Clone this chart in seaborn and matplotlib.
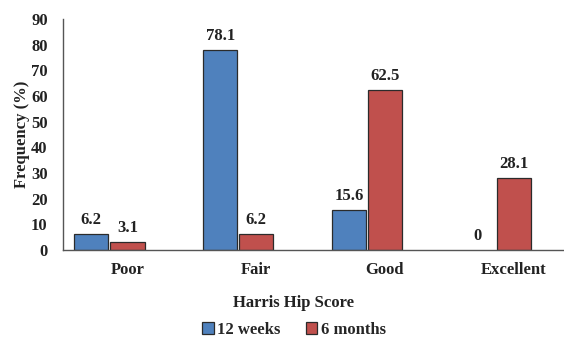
import matplotlib
matplotlib.use("Agg")
import matplotlib.pyplot as plt
import seaborn as sns
import pandas as pd
import numpy as np

categories = ["Poor", "Fair", "Good", "Excellent"]
weeks12 = [6.2, 78.1, 15.6, 0]
months6 = [3.1, 6.2, 62.5, 28.1]
labels12 = ["6.2", "78.1", "15.6", "0"]
labels6 = ["3.1", "6.2", "62.5", "28.1"]
series = ["12 weeks", "6 months"]
yticks = [0, 10, 20, 30, 40, 50, 60, 70, 80, 90]

sns.set_theme(style="white")
plt.rcParams['font.family'] = ['Liberation Serif', 'DejaVu Serif']
plt.rcParams['font.weight'] = 'bold'

FS = 12

rows = []
for c, a, b in zip(categories, weeks12, months6):
    rows.append({"cat": c, "series": series[0], "val": a})
    rows.append({"cat": c, "series": series[1], "val": b})
    rows.append({"cat": c, "series": " ", "val": np.nan})
df = pd.DataFrame(rows)

fig = plt.figure(figsize=(5.64, 3.39), dpi=100)
ax = fig.add_axes([0.1117, 0.263, 0.8883, 0.681])

palette = {series[0]: "#4F81BD", series[1]: "#C0504D", " ": "#FFFFFF"}
sns.barplot(data=df, x="cat", y="val", hue="series", order=categories,
            hue_order=[series[0], series[1], " "], palette=palette,
            width=0.84, gap=0.05, edgecolor="#2b2b2b", linewidth=0.9,
            errorbar=None, ax=ax, saturation=1)

conts = ax.containers
for p, v in zip(conts[0].patches, weeks12):
    if v == 0:
        p.set_linewidth(0)
ax.bar_label(conts[0], labels=labels12, padding=4, fontsize=FS, fontweight="bold", color="#222222")
ax.bar_label(conts[1], labels=labels6, padding=4, fontsize=FS, fontweight="bold", color="#222222")

ax.set_ylim(0, 90)
ax.set_xlim(-0.5, 3.39)
ax.set_yticks(yticks)
ax.set_yticklabels([str(t) for t in yticks])
ax.tick_params(axis="both", length=0, labelsize=FS, colors="#222222")
ax.tick_params(axis="y", pad=11)
ax.tick_params(axis="x", pad=9)
for lab in ax.get_xticklabels() + ax.get_yticklabels():
    lab.set_fontweight("bold")

for s in ["top", "right"]:
    ax.spines[s].set_visible(False)
for s in ["left", "bottom"]:
    ax.spines[s].set_color("#555555")
    ax.spines[s].set_linewidth(1.0)

ax.set_ylabel("Frequency (%)", fontsize=FS, fontweight="bold", color="#222222", labelpad=1)
ax.set_xlabel("Harris Hip Score", fontsize=FS, fontweight="bold", color="#222222")
ax.xaxis.set_label_coords(0.461, -0.195)

leg = ax.get_legend()
if leg is not None:
    leg.remove()
handles = [conts[0].patches[0], conts[1].patches[0]]
fig.legend(handles, series, loc="lower center", bbox_to_anchor=(294/564, -0.04),
           ncol=2, frameon=False, handlelength=0.7, handleheight=0.7,
           handletextpad=0.2, columnspacing=1.5, prop={"weight": "bold", "size": FS})

fig.savefig("out.png", dpi=100)
